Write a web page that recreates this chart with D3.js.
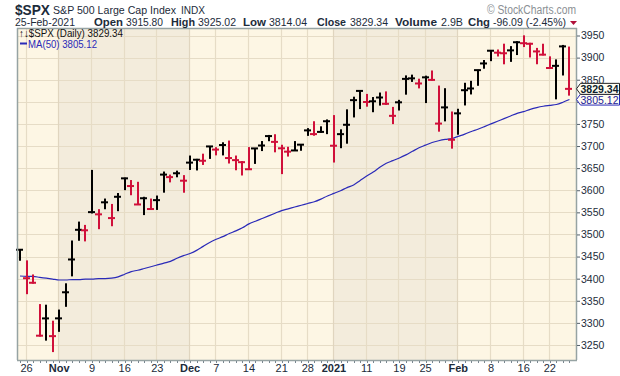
<!DOCTYPE html>
<html>
<head>
<meta charset="utf-8">
<script src="https://cdn.jsdelivr.net/npm/d3@7"></script>
<style>
  body { margin: 0; background: #fff; }
  text { font-family: "Liberation Sans", Arial, sans-serif; }
</style>
</head>
<body>
<div id="chart"></div>
<script>
// trading days 23-Oct-2020 .. 25-Feb-2021
var dates = ["2020-10-23","2020-10-26","2020-10-27","2020-10-28","2020-10-29","2020-10-30",
  "2020-11-02","2020-11-03","2020-11-04","2020-11-05","2020-11-06","2020-11-09","2020-11-10","2020-11-11","2020-11-12","2020-11-13",
  "2020-11-16","2020-11-17","2020-11-18","2020-11-19","2020-11-20","2020-11-23","2020-11-24","2020-11-25","2020-11-27","2020-11-30",
  "2020-12-01","2020-12-02","2020-12-03","2020-12-04","2020-12-07","2020-12-08","2020-12-09","2020-12-10","2020-12-11",
  "2020-12-14","2020-12-15","2020-12-16","2020-12-17","2020-12-18","2020-12-21","2020-12-22","2020-12-23","2020-12-24",
  "2020-12-28","2020-12-29","2020-12-30","2020-12-31",
  "2021-01-04","2021-01-05","2021-01-06","2021-01-07","2021-01-08","2021-01-11","2021-01-12","2021-01-13","2021-01-14","2021-01-15",
  "2021-01-19","2021-01-20","2021-01-21","2021-01-22","2021-01-25","2021-01-26","2021-01-27","2021-01-28","2021-01-29",
  "2021-02-01","2021-02-02","2021-02-03","2021-02-04","2021-02-05","2021-02-08","2021-02-09","2021-02-10","2021-02-11","2021-02-12",
  "2021-02-16","2021-02-17","2021-02-18","2021-02-19","2021-02-22","2021-02-23","2021-02-24","2021-02-25"];

var high = [3466.5,3441.4,3409.5,3342.5,3341.1,3304.9,
  3330.1,3389.5,3486.3,3529.1,3521.6,3646.0,3557.2,3581.2,3569.0,3593.7,
  3628.5,3623.1,3619.1,3585.2,3581.2,3588.0,3642.3,3635.4,3644.3,3634.2,
  3678.5,3671.0,3682.7,3699.2,3697.4,3708.5,3712.4,3678.5,3665.9,
  3697.6,3695.3,3711.3,3725.1,3726.7,3702.9,3698.3,3711.2,3703.8,
  3740.5,3756.1,3744.6,3760.2,
  3770.0,3737.8,3783.0,3811.6,3826.7,3817.9,3810.8,3821.0,3823.6,3788.5,
  3804.5,3859.8,3861.5,3852.3,3859.2,3870.9,3836.8,3830.8,3778.1,
  3784.3,3843.1,3847.5,3872.4,3894.6,3915.8,3918.4,3931.5,3926.0,3937.2,
  3950.4,3933.6,3922.0,3931.4,3902.9,3896.0,3928.7,3925.0];

var low = [3440.5,3364.9,3388.7,3268.9,3259.8,3233.9,
  3279.7,3336.3,3405.2,3485.7,3484.3,3547.5,3511.9,3557.0,3518.6,3552.6,
  3600.2,3588.7,3567.3,3543.8,3556.9,3555.5,3594.5,3617.8,3629.3,3594.4,
  3645.9,3644.8,3657.2,3670.9,3678.9,3678.8,3660.5,3645.2,3633.4,
  3645.8,3659.6,3688.6,3710.9,3685.8,3636.5,3676.2,3689.3,3689.3,
  3723.0,3723.3,3730.2,3726.9,
  3662.7,3695.1,3705.3,3764.7,3783.6,3789.0,3776.5,3791.5,3792.9,3749.6,
  3780.4,3816.2,3845.1,3830.4,3797.2,3847.8,3732.5,3755.8,3694.1,
  3725.6,3791.8,3816.7,3836.3,3874.9,3892.0,3902.6,3884.9,3890.4,3905.8,
  3923.9,3900.4,3885.0,3905.1,3874.7,3805.6,3859.6,3814.0];

var close = [3465.4,3401.0,3390.7,3271.0,3310.1,3270.0,
  3310.2,3369.2,3443.4,3510.5,3509.4,3550.5,3545.5,3572.7,3537.0,3585.2,
  3626.9,3609.5,3567.8,3581.9,3557.5,3577.6,3635.4,3629.7,3638.4,3621.6,
  3662.5,3669.0,3666.7,3699.1,3692.0,3702.3,3672.8,3668.1,3663.5,
  3647.5,3694.6,3701.2,3722.5,3709.4,3694.9,3687.3,3690.0,3703.1,
  3735.4,3727.0,3732.0,3756.1,
  3700.7,3726.9,3748.1,3803.8,3824.7,3799.6,3801.2,3809.8,3795.5,3768.3,
  3798.9,3851.9,3853.1,3841.5,3855.4,3849.6,3750.8,3787.4,3714.2,
  3773.9,3826.3,3830.2,3871.7,3886.8,3915.6,3911.2,3909.9,3916.4,3934.8,
  3932.6,3931.3,3914.0,3906.7,3876.5,3881.4,3925.4,3829.34];

var prevClose = 3453.5;

// 50-day moving average
var ma50 = [3406,3405,3405,3403,3401,3399,3397,3397,3398,3398,
  3399,3399,3400,3400,3401,3404,3410,3416,3419,3423,
  3427,3431,3435,3439,3446,3452,3457,3464,3473,3482,
  3489,3495,3502,3508,3515,3524,3530,3536,3542,3548,
  3554,3558,3562,3566,3570,3574,3580,3587,3593,3599,
  3606,3612,3622,3632,3641,3652,3661,3667,3673,3680,
  3688,3696,3702,3708,3712,3715,3717,3722,3727,3733,
  3738,3744,3750,3756,3762,3768,3774,3778,3783,3787,
  3790,3792,3794,3799,3805.12];

var xTickLabels = ["26","Nov","9","16","23","Dec","7","14","21","28","2021","11","19","25","Feb","8","16","22"];
var xTickDates = ["2020-10-26","2020-11-02","2020-11-09","2020-11-16","2020-11-23","2020-12-01","2020-12-07","2020-12-14",
  "2020-12-21","2020-12-28","2021-01-04","2021-01-11","2021-01-19","2021-01-25","2021-02-01","2021-02-08","2021-02-16","2021-02-22"];
var monthStarts = ["2020-11-02","2020-12-01","2021-01-04","2021-02-01"];
var yTicks = d3.range(3250, 3951, 50);
// the 3800 label sits under the price boxes in the original
var yHidden = [3800];

var W = 620, H = 376;
var plot = {left: 17, right: 576, top: 28, bottom: 360};

var svg = d3.select("#chart").append("svg")
    .attr("width", W)
    .attr("height", H);

var x = d3.scaleLinear()
    .domain([-0.46, 85.0])
    .range([plot.left, plot.right]);

var y = d3.scaleLinear()
    .domain([3216, 3967])
    .range([plot.bottom, plot.top]);

var idx = function (d) { return dates.indexOf(d); };

// background, alternate month shading
var bands = [dates[0]].concat(monthStarts);
svg.append("rect")
    .attr("x", plot.left).attr("y", plot.top)
    .attr("width", plot.right - plot.left).attr("height", plot.bottom - plot.top)
    .attr("fill", "#fdf6e4");
bands.forEach(function (b, k) {
    if (k % 2 === 0) return;
    var x0 = x(idx(b)) - 1;
    var x1 = k + 1 < bands.length ? x(idx(bands[k + 1])) - 1 : plot.right;
    svg.append("rect")
        .attr("x", x0).attr("y", plot.top)
        .attr("width", x1 - x0).attr("height", plot.bottom - plot.top)
        .attr("fill", "#f3ecdc");
});

// grid
svg.append("g").selectAll("line")
    .data(yTicks)
    .enter().append("line")
    .attr("x1", plot.left).attr("x2", plot.right)
    .attr("y1", function (d) { return Math.round(y(d)) + 0.5; })
    .attr("y2", function (d) { return Math.round(y(d)) + 0.5; })
    .attr("stroke", "#e6dcc6").attr("stroke-width", 1.2);

svg.append("g").selectAll("line")
    .data(xTickDates)
    .enter().append("line")
    .attr("x1", function (d) { return Math.round(x(idx(d)) - 1) + 0.5; })
    .attr("x2", function (d) { return Math.round(x(idx(d)) - 1) + 0.5; })
    .attr("y1", plot.top).attr("y2", plot.bottom)
    .attr("stroke", function (d) { return monthStarts.indexOf(d) >= 0 ? "#e0d5bf" : "#e6dcc6"; })
    .attr("stroke-width", 1.2);

// moving average
var maLine = d3.line()
    .x(function (d, i) { return x(i); })
    .y(function (d) { return y(d); })
    .curve(d3.curveMonotoneX);
svg.append("path")
    .datum(ma50)
    .attr("d", maLine)
    .attr("fill", "none")
    .attr("stroke", "#2a2ab8")
    .attr("stroke-width", 1.2);

// HLC bars, red when close is below previous close
var barColor = function (i) {
    var p = i === 0 ? prevClose : close[i - 1];
    return close[i] < p ? "#d0103a" : "#000";
};
var bars = svg.append("g").selectAll("g")
    .data(close)
    .enter().append("g");
bars.append("rect")
    .attr("class", "bar")
    .attr("x", function (d, i) { return Math.round(x(i)) - 1; })
    .attr("y", function (d, i) { return y(high[i]); })
    .attr("width", 2)
    .attr("height", function (d, i) { return Math.max(1, y(low[i]) - y(high[i])); })
    .attr("fill", function (d, i) { return barColor(i); });
bars.append("rect")
    .attr("x", function (d, i) { return Math.round(x(i)) - 4; })
    .attr("y", function (d) { return y(d) - 1; })
    .attr("width", 7)
    .attr("height", 2)
    .attr("fill", function (d, i) { return barColor(i); });

// frame
var frame = svg.append("g").attr("stroke", "#96a3a3").attr("stroke-width", 1.5);
frame.append("line").attr("x1", plot.left + 0.5).attr("x2", plot.left + 0.5).attr("y1", plot.top).attr("y2", plot.bottom);
frame.append("line").attr("x1", plot.right + 0.5).attr("x2", plot.right + 0.5).attr("y1", plot.top).attr("y2", plot.bottom);
frame.append("line").attr("x1", plot.left).attr("x2", plot.right + 1).attr("y1", plot.top + 0.5).attr("y2", plot.top + 0.5);
frame.append("line").attr("x1", plot.left).attr("x2", plot.right + 1).attr("y1", plot.bottom + 0.5).attr("y2", plot.bottom + 0.5);

// right axis
var yAxis = svg.append("g")
    .attr("transform", "translate(" + (plot.right + 1) + ",0)")
    .call(d3.axisRight(y).tickValues(yTicks).tickSize(3).tickPadding(1)
        .tickFormat(function (d) { return yHidden.indexOf(d) >= 0 ? "" : d3.format("d")(d); }));
yAxis.select(".domain").remove();
yAxis.selectAll("line").attr("stroke", "#55606a");
yAxis.selectAll("text")
    .style("font-family", "Liberation Sans, Arial, sans-serif")
    .style("font-size", "10.5px")
    .attr("fill", "#1c2b3a");

// bottom axis: small day ticks, labels at weeks
svg.append("g").selectAll("line")
    .data(dates)
    .enter().append("line")
    .attr("x1", function (d, i) { return Math.round(x(i)) + 0.5; })
    .attr("x2", function (d, i) { return Math.round(x(i)) + 0.5; })
    .attr("y1", plot.bottom + 1).attr("y2", plot.bottom + 3)
    .attr("stroke", "#7a8790");
svg.append("g").selectAll("text")
    .data(xTickDates)
    .enter().append("text")
    .attr("x", function (d) { return x(idx(d)); })
    .attr("y", 372)
    .attr("text-anchor", "middle")
    .style("font-size", "11px")
    .style("font-weight", function (d) { return monthStarts.indexOf(d) >= 0 ? "bold" : "normal"; })
    .attr("fill", "#1c2b3a")
    .text(function (d, i) { return xTickLabels[i]; });

// price markers on right
function marker(v, label, stroke, txt, bold) {
    var cy = y(v);
    var g = svg.append("g");
    g.append("path")
        .attr("d", "M" + (plot.right + 0.5) + "," + cy + " L" + (plot.right + 4.5) + "," + (cy - 5.5) +
            " L619.5," + (cy - 5.5) + " L619.5," + (cy + 5.5) + " L" + (plot.right + 4.5) + "," + (cy + 5.5) + " Z")
        .attr("fill", "#fffdf2")
        .attr("stroke", stroke);
    g.append("text")
        .attr("x", plot.right + 4.5).attr("y", cy + 4)
        .attr("textLength", 38)
        .attr("lengthAdjust", "spacingAndGlyphs")
        .style("font-size", "11px")
        .style("font-weight", bold ? "bold" : "normal")
        .attr("fill", txt)
        .text(label);
}
marker(ma50[ma50.length - 1], "3805.12", "#2a2ab8", "#22229a", false);
marker(close[close.length - 1], "3829.34", "#222", "#0e1d2c", true);

// legend
svg.append("text").attr("x", 19).attr("y", 37)
    .attr("textLength", 104).attr("lengthAdjust", "spacingAndGlyphs")
    .style("font-size", "10.5px").attr("fill", "#111")
    .text("\u2191\u2193$SPX (Daily) 3829.34");
svg.append("line").attr("x1", 20).attr("x2", 27).attr("y1", 43.5).attr("y2", 43.5)
    .attr("stroke", "#2a2ab8").attr("stroke-width", 2);
svg.append("text").attr("x", 28).attr("y", 47.5)
    .attr("textLength", 69).attr("lengthAdjust", "spacingAndGlyphs")
    .style("font-size", "10.5px").attr("fill", "#2a2ab8")
    .text("MA(50) 3805.12");

// header: [text, x, width, size, bold, baseline]
var header = [["$SPX", 15, 35, 15, true, 15], ["S&P 500 Large Cap Index", 53, 123, 11, false, 14], ["INDX", 181, 24, 10, false, 14],
    ["25-Feb-2021", 15, 60, 11, false, 26], ["Open", 94, 29, 11.5, true, 26], ["3915.80", 126, 37, 11, false, 26],
    ["High", 171, 24, 11.5, true, 26], ["3925.02", 198, 38, 11, false, 26], ["Low", 243, 23, 11.5, true, 26],
    ["3814.04", 269, 38, 11, false, 26], ["Close", 317, 29, 11.5, true, 26], ["3829.34", 350, 38, 11, false, 26],
    ["Volume", 395, 42, 11.5, true, 26], ["2.9B", 441, 22, 11, false, 26], ["Chg", 468, 22, 11.5, true, 26],
    ["-96.09 (-2.45%)", 493, 73, 11, false, 26]];
var head = svg.append("g").attr("fill", "#1c2b3a");
header.forEach(function (t) {
    head.append("text")
        .attr("x", t[1]).attr("y", t[5])
        .attr("textLength", t[2]).attr("lengthAdjust", "spacingAndGlyphs")
        .style("font-size", t[3] + "px")
        .style("font-weight", t[4] ? "bold" : "normal")
        .text(t[0]);
});
svg.append("path").attr("d", "M570,21 L577,21 L573.5,25 Z").attr("fill", "#b0103a");

svg.append("text").attr("x", 487).attr("y", 14)
    .attr("textLength", 89).attr("lengthAdjust", "spacingAndGlyphs")
    .style("font-size", "12px").attr("fill", "#8a8f94")
    .text("\u00a9 StockCharts.com");
</script>
</body>
</html>
